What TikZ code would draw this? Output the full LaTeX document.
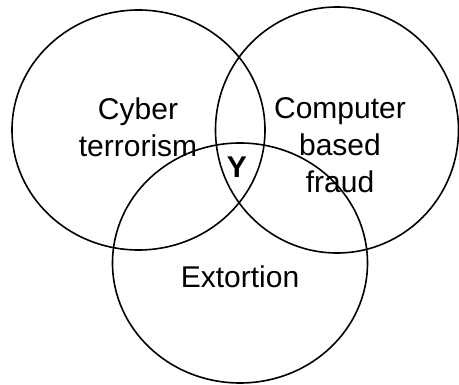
\documentclass[tikz,border=0pt]{standalone}
\usepackage{fontspec}
\setmainfont{Liberation Sans}
\begin{document}
\begin{tikzpicture}[x=1pt,y=-1pt,
  ring/.style={draw=black,line width=1.6pt},
  lbl/.style={align=center,inner sep=0pt,font=\fontsize{30}{37}\selectfont}]
\useasboundingbox (0,0) rectangle (459,385);
\draw[ring] (138.5,130) ellipse [x radius=126.5,y radius=120];
\draw[ring] (337,130) ellipse [x radius=121.5,y radius=123];
\draw[ring] (240,263) ellipse [x radius=127.5,y radius=120];
\node[lbl] (cyber) at (138,127) {Cyber\\terrorism};
\node[lbl] (comp) at (340,145) {Computer\\based\\fraud};
\node[lbl] (ext) at (240,277) {Extortion};
\node[lbl,font=\fontsize{30}{37}\selectfont\bfseries] (y) at (237,167) {Y};
\end{tikzpicture}
\end{document}
